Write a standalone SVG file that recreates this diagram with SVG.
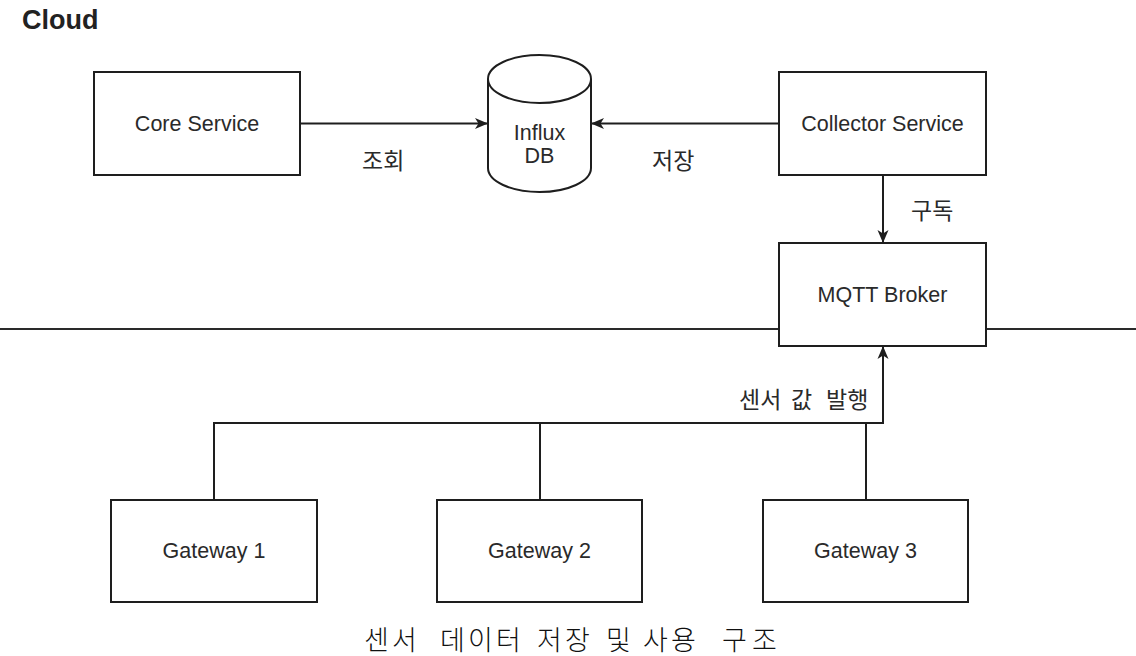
<svg xmlns="http://www.w3.org/2000/svg" width="1136" height="656" viewBox="0 0 1136 656">
  <style>
    .box { fill: #ffffff; stroke: #1e1e1e; stroke-width: 2; }
    .lbl { font-family: "Liberation Sans", Arial, sans-serif; font-size: 21.5px; fill: #2a2a2a; text-anchor: middle; dominant-baseline: central; }
    .kr { font-family: "Noto Sans CJK KR", "Liberation Sans", sans-serif; font-size: 23px; fill: #2a2a2a; dominant-baseline: central; }
    .wire { fill: none; stroke: #1e1e1e; stroke-width: 2; }
    .arrow { fill: none; stroke: #1e1e1e; stroke-width: 2; marker-end: url(#head); }
    .caption { font-family: "Noto Sans CJK KR", sans-serif; font-size: 27px; font-weight: 300; fill: #111111; dominant-baseline: central; }
  </style>
  <defs>
    <marker id="head" markerWidth="14" markerHeight="14" viewBox="0 0 14 14" refX="13" refY="7" orient="auto" markerUnits="userSpaceOnUse">
      <path d="M0,1.5 L13,7 L0,12.5 L3.5,7 z" fill="#1e1e1e"/>
    </marker>
  </defs>

  <rect width="1136" height="656" fill="#ffffff"/>

  <!-- zone title -->
  <text x="22" y="20" font-family="Liberation Sans, Arial, sans-serif" font-size="27" font-weight="bold" fill="#222222" dominant-baseline="central">Cloud</text>

  <!-- cloud / edge boundary -->
  <g id="boundary">
    <line x1="0" y1="329" x2="779" y2="329" stroke="#2a2a2a" stroke-width="2"/>
    <line x1="986" y1="329" x2="1136" y2="329" stroke="#2a2a2a" stroke-width="2"/>
  </g>

  <!-- connectors -->
  <g id="connectors">
    <path class="arrow" d="M300,123.5 L488,123.5"/>
    <path class="arrow" d="M779,123.5 L591,123.5"/>
    <path class="arrow" d="M883,175 L883,243"/>
    <path class="arrow" d="M866,500 L866,423 L883,423 L883,346"/>
    <path class="wire" d="M214,500 L214,423 L883,423"/>
    <path class="wire" d="M540,500 L540,423"/>
    <text class="kr" x="362" y="159">조회</text>
    <text class="kr" x="652" y="159">저장</text>
    <text class="kr" x="911" y="209">구독</text>
    <text class="kr" y="397.5"><tspan x="739">센서</tspan><tspan x="791">값</tspan><tspan x="826">발행</tspan></text>
  </g>

  <g id="core-service">
    <rect class="box" x="94" y="72" width="206" height="103"/>
    <text class="lbl" x="197" y="123.5">Core Service</text>
  </g>

  <g id="influx-db">
    <path class="box" d="M488,79 A51.5,24 0 0 1 591,79 L591,168 A51.5,24 0 0 1 488,168 Z"/>
    <path class="wire" d="M488,79 A51.5,24 0 0 0 591,79"/>
    <text class="lbl" x="539.5" y="132.5">Influx</text>
    <text class="lbl" x="539.5" y="155.5">DB</text>
  </g>

  <g id="collector-service">
    <rect class="box" x="779" y="72" width="207" height="103"/>
    <text class="lbl" x="882.5" y="123.5">Collector Service</text>
  </g>

  <g id="mqtt-broker">
    <rect class="box" x="779" y="243" width="207" height="103"/>
    <text class="lbl" x="882.5" y="294.5">MQTT Broker</text>
  </g>

  <g id="gateway-1">
    <rect class="box" x="111" y="500" width="206" height="102"/>
    <text class="lbl" x="214" y="551">Gateway 1</text>
  </g>

  <g id="gateway-2">
    <rect class="box" x="437" y="500" width="205" height="102"/>
    <text class="lbl" x="539.5" y="551">Gateway 2</text>
  </g>

  <g id="gateway-3">
    <rect class="box" x="763" y="500" width="205" height="102"/>
    <text class="lbl" x="865.5" y="551">Gateway 3</text>
  </g>

  <!-- figure caption, glyphs placed one by one for even spacing -->
  <text class="caption" y="638" x="364 392 440 468 496 537 565 606 643 671 722 752">센서데이터저장및사용구조</text>
</svg>
